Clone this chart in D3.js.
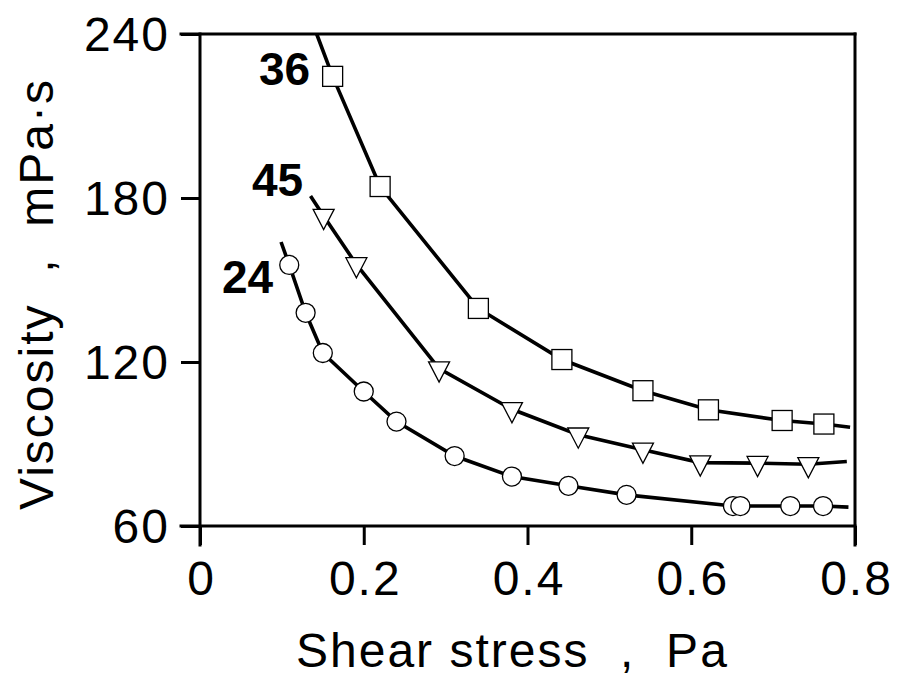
<!DOCTYPE html>
<html>
<head>
<meta charset="utf-8">
<script src="https://cdn.jsdelivr.net/npm/d3@7"></script>
<style>
  body { margin: 0; background: #fff; }
  text { font-family: "Liberation Sans", Arial, sans-serif; fill: #000; }
</style>
</head>
<body>
<div id="chart"></div>
<script>
// values
const xTicks = [0, 0.2, 0.4, 0.6, 0.8];
const yTicks = [60, 120, 180, 240];

const points36 = [[0.162, 224.5], [0.220, 184.2], [0.340, 139.6], [0.442, 120.9],
  [0.541, 109.5], [0.621, 102.5], [0.711, 98.6], [0.762, 97.3]];
const points45 = [[0.151, 173.4], [0.191, 155.7], [0.292, 117.6], [0.381, 102.7],
  [0.462, 93.4], [0.541, 87.9], [0.611, 83.2], [0.681, 83.0], [0.743, 82.6]];
const points24 = [[0.109, 155.5], [0.129, 138.0], [0.150, 123.3], [0.200, 109.2],
  [0.240, 98.2], [0.311, 85.6], [0.381, 78.1], [0.450, 74.7], [0.521, 71.4],
  [0.651, 67.3], [0.660, 67.3], [0.721, 67.3], [0.761, 67.3]];

// where each drawn line starts and stops beyond the markers
const ends36 = [[0.1425, 240], [0.794, 96.1]];
const ends45 = [[0.135, 180.7], [0.790, 83.6]];
const ends24 = [[0.099, 163.9], [0.792, 66.9]];

const seriesLabels = ["36", "45", "24"];

const width = 897;
const height = 684;
const margin = { top: 34, right: 42, bottom: 158, left: 200 };

const svg = d3.select("#chart")
  .append("svg")
  .attr("width", width)
  .attr("height", height);

const x = d3.scaleLinear()
  .domain([0, 0.8])
  .range([margin.left, width - margin.right]);

const y = d3.scaleLinear()
  .domain([60, 240])
  .range([height - margin.bottom, margin.top]);

const tickLen = 19;

// frame: left, bottom, top and right lines, the corner ones run past as ticks
const frame = svg.append("g")
  .attr("stroke", "#000")
  .attr("stroke-width", 3)
  .attr("stroke-linecap", "square");

frame.append("line")
  .attr("x1", x(0)).attr("x2", x(0))
  .attr("y1", y(240)).attr("y2", y(60) + tickLen);
frame.append("line")
  .attr("x1", x(0.8)).attr("x2", x(0.8))
  .attr("y1", y(240)).attr("y2", y(60) + tickLen);
frame.append("line")
  .attr("x1", x(0) - tickLen).attr("x2", x(0.8))
  .attr("y1", y(60)).attr("y2", y(60));
frame.append("line")
  .attr("x1", x(0) - tickLen).attr("x2", x(0.8))
  .attr("y1", y(240)).attr("y2", y(240));

const xAxis = svg.append("g")
  .attr("transform", `translate(0,${y(60)})`)
  .call(d3.axisBottom(x)
    .tickValues(xTicks)
    .tickFormat(d => d === 0 ? "0" : d3.format(".1f")(d))
    .tickSize(tickLen)
    .tickPadding(14));

const yAxis = svg.append("g")
  .attr("transform", `translate(${x(0)},0)`)
  .call(d3.axisLeft(y)
    .tickValues(yTicks)
    .tickSize(tickLen)
    .tickPadding(13));

[xAxis, yAxis].forEach(g => {
  g.select(".domain").remove();
  g.selectAll(".tick line").attr("stroke", "#000").attr("stroke-width", 3);
  g.selectAll(".tick text")
    .attr("font-family", "Liberation Sans, Arial, sans-serif")
    .attr("font-size", 48)
    .attr("letter-spacing", 2)
    .attr("fill", "#000");
});
xAxis.selectAll(".tick text").attr("dy", "0.75em").attr("dx", 1);
yAxis.selectAll(".tick text").attr("dy", "0.35em").attr("dx", 2);

// axis titles
svg.append("text")
  .attr("x", 296)
  .attr("y", 667)
  .attr("font-size", 48)
  .attr("letter-spacing", 2)
  .style("white-space", "pre")
  .text("Shear stress  ,  Pa");

svg.append("text")
  .attr("transform", "translate(53,294) rotate(-90)")
  .attr("text-anchor", "middle")
  .attr("font-size", 48)
  .attr("letter-spacing", 2)
  .style("white-space", "pre")
  .text("Viscosity  ,  mPa\u00b7s");

const line = d3.line()
  .x(d => x(d[0]))
  .y(d => y(d[1]));

const series = [
  { pts: points36, ends: ends36, shape: "square" },
  { pts: points45, ends: ends45, shape: "triangle" },
  { pts: points24, ends: ends24, shape: "circle" }
];

series.forEach(s => {
  svg.append("path")
    .datum([s.ends[0], ...s.pts, s.ends[1]])
    .attr("fill", "none")
    .attr("stroke", "#000")
    .attr("stroke-width", 3.6)
    .attr("d", line);
});

series.forEach(s => {
  const g = svg.append("g")
    .attr("fill", "#fff")
    .attr("stroke", "#000")
    .attr("stroke-width", 1.3);
  const m = g.selectAll(".m")
    .data(s.pts)
    .enter();
  if (s.shape === "square") {
    m.append("rect")
      .attr("x", d => x(d[0]) - 10)
      .attr("y", d => y(d[1]) - 10)
      .attr("width", 20)
      .attr("height", 20);
  } else if (s.shape === "circle") {
    m.append("circle")
      .attr("cx", d => x(d[0]))
      .attr("cy", d => y(d[1]))
      .attr("r", 9.5);
  } else {
    m.append("path")
      .attr("transform", d => `translate(${x(d[0])},${y(d[1])})`)
      .attr("d", "M-10.5,-6.7L10.5,-6.7L0,13.5Z");
  }
});

// curve labels
const labelPos = [[259, 85], [252, 196], [222, 293]];
svg.selectAll(".lbl")
  .data(seriesLabels)
  .enter().append("text")
  .attr("x", (d, i) => labelPos[i][0])
  .attr("y", (d, i) => labelPos[i][1])
  .attr("font-size", 46)
  .attr("font-weight", "bold")
  .text(d => d);
</script>
</body>
</html>
